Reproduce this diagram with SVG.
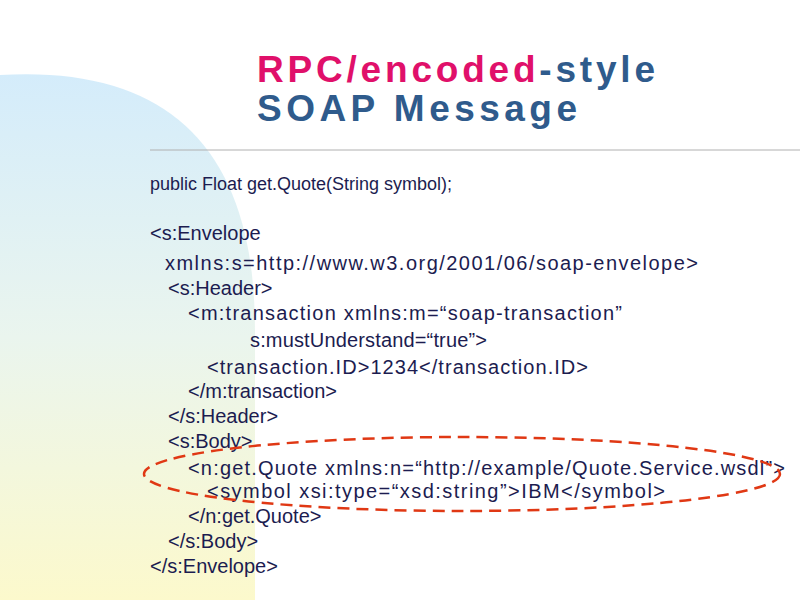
<svg xmlns="http://www.w3.org/2000/svg" width="800" height="600" viewBox="0 0 800 600">
<defs>
<linearGradient id="bg" x1="0" y1="0" x2="0" y2="1">
<stop offset="0" stop-color="#d4ecfb"/>
<stop offset="0.5" stop-color="#eaf5ee"/>
<stop offset="1" stop-color="#fcf9cc"/>
</linearGradient>
<style>
.t{font-family:"Liberation Sans",Arial,sans-serif;font-size:20px;fill:#1c1c50}
.h{font-family:"Liberation Sans",Arial,sans-serif;font-size:37px;font-weight:bold;fill:#2f5b8c}
</style>
</defs>
<rect width="800" height="600" fill="#fff"/>
<path d="M0 75 Q255 60 255 330 L255 600 L0 600 Z" fill="url(#bg)"/>
<line x1="150" y1="150" x2="800" y2="150" stroke="#b0b0b0" stroke-width="1"/>
<g id="title">
<text class="h" x="257" y="82" textLength="398" lengthAdjust="spacing"><tspan fill="#e0106a">RPC/encoded</tspan>-style</text>
<text class="h" x="257" y="121" textLength="320" lengthAdjust="spacing">SOAP Message</text>
</g>
<g id="code">
<text class="t" x="150" y="190" style="font-size:18px" textLength="302" lengthAdjust="spacing">public Float get.Quote(String symbol);</text>
<text class="t" x="150" y="240">&lt;s:Envelope</text>
<text class="t" x="165" y="270" textLength="533" lengthAdjust="spacing">xmlns:s=http://www.w3.org/2001/06/soap-envelope&gt;</text>
<text class="t" x="168" y="295">&lt;s:Header&gt;</text>
<text class="t" x="188" y="320" textLength="434" lengthAdjust="spacing">&lt;m:transaction xmlns:m=“soap-transaction”</text>
<text class="t" x="250" y="347" textLength="237" lengthAdjust="spacing">s:mustUnderstand=“true”&gt;</text>
<text class="t" x="207" y="374" textLength="381" lengthAdjust="spacing">&lt;transaction.ID&gt;1234&lt;/transaction.ID&gt;</text>
<text class="t" x="188" y="398">&lt;/m:transaction&gt;</text>
<text class="t" x="168" y="423">&lt;/s:Header&gt;</text>
<text class="t" x="168" y="448">&lt;s:Body&gt;</text>
<text class="t" x="188" y="475" textLength="597" lengthAdjust="spacing">&lt;n:get.Quote xmlns:n=“http://example/Quote.Service.wsdl”&gt;</text>
<text class="t" x="207" y="498" textLength="458" lengthAdjust="spacing">&lt;symbol xsi:type=“xsd:string”&gt;IBM&lt;/symbol&gt;</text>
<text class="t" x="188" y="523">&lt;/n:get.Quote&gt;</text>
<text class="t" x="168" y="548">&lt;/s:Body&gt;</text>
<text class="t" x="150" y="573">&lt;/s:Envelope&gt;</text>
</g>
<ellipse cx="462" cy="474" rx="318" ry="37" fill="none" stroke="#e03814" stroke-width="2.5" stroke-dasharray="12,7"/>
</svg>
